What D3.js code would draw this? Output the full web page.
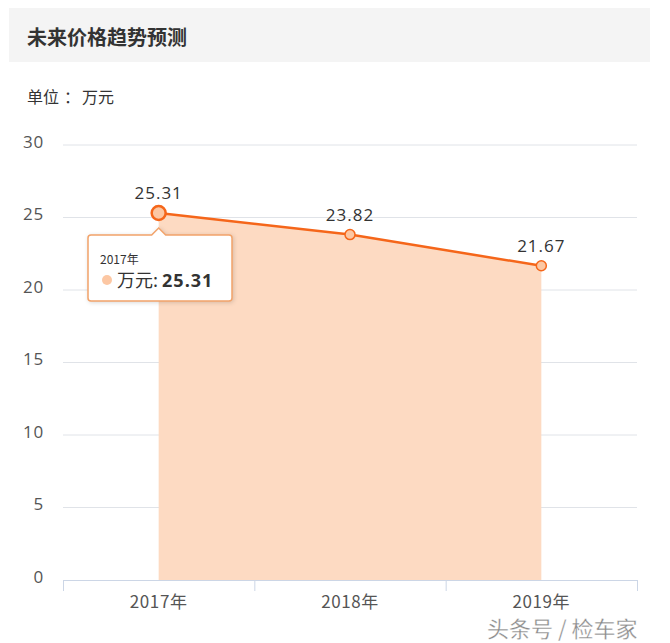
<!DOCTYPE html>
<html><head><meta charset="utf-8">
<script src="https://cdn.jsdelivr.net/npm/d3@7"></script>
<style>body{margin:0;background:#fff;}svg{display:block;font-family:"Noto Sans CJK SC","Open Sans",sans-serif;}</style>
</head><body>
<svg id="c" width="670" height="643"></svg>
<script>
const categories = ["2017年", "2018年", "2019年"];
const values = [25.31, 23.82, 21.67];
const yTicks = [0, 5, 10, 15, 20, 25, 30];
const title = "未来价格趋势预测";
const unitLabel = "单位：万元";
const seriesName = "万元";
const watermark = "头条号 / 检车家";

const svg = d3.select("#c");
svg.append("rect").attr("x", 9).attr("y", 8).attr("width", 641).attr("height", 54).attr("fill", "#f4f4f4");
svg.append("text").attr("x", 27).attr("y", 45).attr("font-size", 20).attr("font-weight", "bold").attr("fill", "#333").text(title);
const u = svg.append("text").attr("x", 27).attr("y", 103).attr("font-size", 16).attr("fill", "#333");
u.append("tspan").text("单位");
u.append("tspan").attr("dx", 5).text("：");
u.append("tspan").attr("dx", 2).text("万元");

const x = d3.scaleBand().domain(categories).range([63, 637]);
const y = d3.scaleLinear().domain([0, 30]).range([580, 145]);

// grid
svg.append("g").selectAll("line").data(yTicks.filter(d => d > 0)).join("line")
  .attr("x1", 63).attr("x2", 637).attr("y1", d => y(d)).attr("y2", d => y(d))
  .attr("stroke", "#e0e3e8").attr("stroke-width", 1);
svg.append("g").selectAll("text").data(yTicks).join("text")
  .attr("x", 44).attr("y", d => y(d) - 2).attr("text-anchor", "end").attr("dominant-baseline", "middle")
  .attr("font-size", 17).attr("fill", "#555").attr("font-family", "'Open Sans',sans-serif").attr("letter-spacing", 0.8).text(d => d);

// area
const cx = d => x(d) + x.bandwidth() / 2;
const pts = categories.map((c, i) => ({c, v: values[i]}));
svg.append("path").datum(pts)
  .attr("d", d3.area().x(d => cx(d.c)).y0(y(0)).y1(d => y(d.v)))
  .attr("fill", "#fddac2");
svg.append("path").datum(pts)
  .attr("d", d3.line().x(d => cx(d.c)).y(d => y(d.v)))
  .attr("fill", "none").attr("stroke", "#f5661a").attr("stroke-width", 2.5);

// x axis
const gx = svg.append("g").attr("transform", `translate(0,${y(0)})`);
gx.append("line").attr("x1", 63).attr("x2", 637).attr("y1", 0.5).attr("y2", 0.5).attr("stroke", "#ccd6e6");
gx.selectAll("line.tk").data([0, 1, 2, 3]).join("line").attr("class", "tk")
  .attr("x1", i => 63 + i * x.bandwidth() + 0.5).attr("x2", i => 63 + i * x.bandwidth() + 0.5)
  .attr("y1", 0).attr("y2", 11).attr("stroke", "#ccd6e6");
gx.selectAll("text").data(categories).join("text")
  .attr("x", d => cx(d)).attr("y", 28).attr("text-anchor", "middle")
  .attr("font-size", 17).attr("fill", "#555").attr("letter-spacing", 0.6).text(d => d);

// points
svg.append("g").selectAll("circle").data(pts).join("circle")
  .attr("cx", d => cx(d.c)).attr("cy", d => y(d.v))
  .attr("r", (d, i) => i === 0 ? 7 : 5)
  .attr("fill", "#fcc7a3").attr("stroke", "#f5661a").attr("stroke-width", (d, i) => i === 0 ? 2.5 : 1.5);

// value labels
svg.append("g").selectAll("text").data(pts).join("text")
  .attr("x", d => cx(d.c)).attr("y", d => y(d.v) - 14).attr("text-anchor", "middle")
  .attr("font-size", 17).attr("fill", "#333").attr("font-family", "'Open Sans',sans-serif").attr("letter-spacing", 1)
  .text(d => d.v.toFixed(2));

// tooltip
const tx = cx(categories[0]), ty = y(values[0]);
const bx = 88, by = 235, bw = 144, bh = 66;
const tip = svg.append("g");
tip.append("path")
  .attr("d", `M${bx+3},${by} L${tx-7},${by} L${tx},${by-7} L${tx+7},${by} L${bx+bw-3},${by} Q${bx+bw},${by} ${bx+bw},${by+3} L${bx+bw},${by+bh-3} Q${bx+bw},${by+bh} ${bx+bw-3},${by+bh} L${bx+3},${by+bh} Q${bx},${by+bh} ${bx},${by+bh-3} L${bx},${by+3} Q${bx},${by} ${bx+3},${by} Z`)
  .attr("fill", "#fff").attr("stroke", "#f2a36a").attr("stroke-width", 1.5)
  .style("filter", "drop-shadow(1px 1px 2px rgba(0,0,0,0.15))");
tip.append("text").attr("x", 100).attr("y", 264).attr("font-size", 12).attr("fill", "#333").text(categories[0]);
tip.append("circle").attr("cx", 107).attr("cy", 280).attr("r", 5).attr("fill", "#fcc7a3");
const t2 = tip.append("text").attr("x", 117).attr("y", 287).attr("font-size", 18).attr("fill", "#333");
t2.append("tspan").text(seriesName + ": ");
t2.append("tspan").attr("font-weight", "bold").attr("font-family", "'Open Sans',sans-serif").attr("letter-spacing", 1).text(values[0].toFixed(2));

// watermark
svg.append("text").attr("x", 487).attr("y", 637).attr("font-size", 22).attr("fill", "#8a8a8a")
  .attr("stroke", "#fff").attr("stroke-width", 0.3).text(watermark);
</script>
</body></html>
